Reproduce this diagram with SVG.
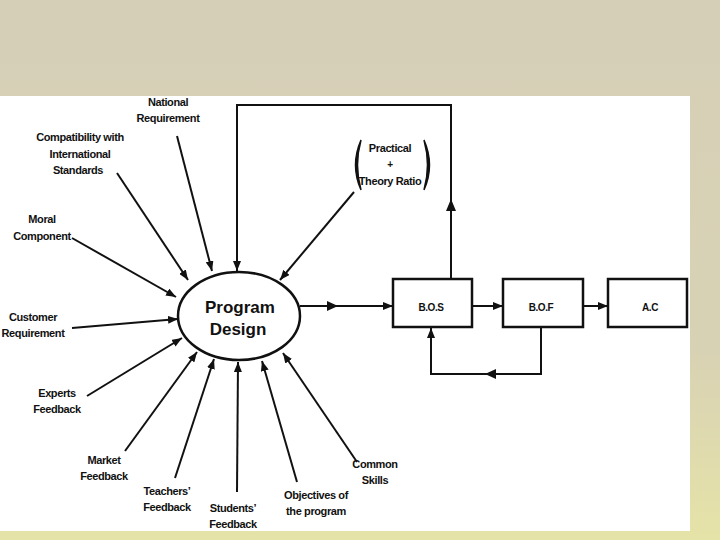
<svg xmlns="http://www.w3.org/2000/svg" width="720" height="540" viewBox="0 0 720 540">
<defs>
<linearGradient id="bg" x1="0" y1="0" x2="0" y2="1">
<stop offset="0" stop-color="#d6cfb8"/>
<stop offset="0.65" stop-color="#d8d2b4"/>
<stop offset="1" stop-color="#e6e3a8"/>
</linearGradient>
<marker id="ah" viewBox="0 0 10 8" refX="10" refY="4" markerWidth="10" markerHeight="8" markerUnits="userSpaceOnUse" orient="auto">
<path d="M0,0 L10,4 L0,8 Z" fill="#111"/>
</marker>
</defs>
<style>
.t{font-family:"Liberation Sans",Arial,sans-serif;font-weight:bold;font-size:11px;letter-spacing:-0.4px;fill:#111;text-anchor:middle}
.c{stroke:#111;stroke-width:2;fill:none}
.b{stroke:#111;stroke-width:2.5;fill:#fff}
.h{fill:#111}
</style>
<rect x="0" y="0" width="720" height="540" fill="url(#bg)"/>
<rect x="0" y="96" width="690" height="435" fill="#fff"/>

<g id="connectors">
<path class="c" d="M177,136 L212,271" marker-end="url(#ah)"/>
<path class="c" d="M117,173 L188,280" marker-end="url(#ah)"/>
<path class="c" d="M72,238 L176,297" marker-end="url(#ah)"/>
<path class="c" d="M72,328 L178,319" marker-end="url(#ah)"/>
<path class="c" d="M87,396 L182,338" marker-end="url(#ah)"/>
<path class="c" d="M125,451 L197,352" marker-end="url(#ah)"/>
<path class="c" d="M175,478 L214,359" marker-end="url(#ah)"/>
<path class="c" d="M237,492 L238,362" marker-end="url(#ah)"/>
<path class="c" d="M297,482 L262,361" marker-end="url(#ah)"/>
<path class="c" d="M357,462 L283,353" marker-end="url(#ah)"/>
<path class="c" d="M354,192 L280,280" marker-end="url(#ah)" stroke-width="1.5"/>
<path class="c" d="M300,306 L393,306" marker-end="url(#ah)" stroke-width="1.5"/>
<polygon class="h" points="327,301 338,306 327,311"/>
<path class="c" d="M472,306 L503,306" marker-end="url(#ah)" stroke-width="1.5"/>
<path class="c" d="M583,306 L608,306" marker-end="url(#ah)" stroke-width="1.5"/>
<path class="c" d="M541,327 L541,374 L431,374 L431,328" stroke-width="2.5" marker-end="url(#ah)"/>
<polygon class="h" points="485,374 496,369 496,379"/>
<path class="c" d="M451,279 L451,105 L237,105 L237,271" stroke-width="2.5" marker-end="url(#ah)"/>
<polygon class="h" points="446,211 451,199 456,211"/>
</g>

<g id="program-design">
<ellipse cx="239" cy="316" rx="61" ry="44" fill="#fff" stroke="#111" stroke-width="2.5"/>
<text class="t" x="240" y="313" style="font-size:17px;letter-spacing:0">Program</text>
<text class="t" x="238" y="335" style="font-size:17px;letter-spacing:0">Design</text>
</g>

<g id="bos"><rect class="b" x="393" y="279" width="79" height="48"/><text class="t" x="431" y="311" style="font-size:10px">B.O.S</text></g>
<g id="bof"><rect class="b" x="503" y="279" width="80" height="48"/><text class="t" x="541" y="311" style="font-size:10px">B.O.F</text></g>
<g id="ac"><rect class="b" x="608" y="279" width="79" height="48"/><text class="t" x="650" y="311" style="font-size:10px">A.C</text></g>

<g id="ratio">
<path d="M361,140 Q350,165 361,190 Q354,165 361,140 Z" fill="#111" stroke="#111" stroke-width="1.5"/>
<path d="M424,140 Q435,165 424,190 Q431,165 424,140 Z" fill="#111" stroke="#111" stroke-width="1.5"/>
<text class="t" x="390" y="152">Practical</text>
<text class="t" x="390" y="168" style="font-size:10px">+</text>
<text class="t" x="390" y="185">Theory Ratio</text>
</g>

<g id="national"><text class="t" x="168" y="106">National</text><text class="t" x="168" y="122">Requirement</text></g>
<g id="compat"><text class="t" x="80" y="141">Compatibility with</text><text class="t" x="80" y="158">International</text><text class="t" x="78" y="174">Standards</text></g>
<g id="moral"><text class="t" x="42" y="223">Moral</text><text class="t" x="42" y="240">Component</text></g>
<g id="customer"><text class="t" x="33" y="321">Customer</text><text class="t" x="33" y="337">Requirement</text></g>
<g id="experts"><text class="t" x="57" y="397">Experts</text><text class="t" x="57" y="413">Feedback</text></g>
<g id="market"><text class="t" x="104" y="464">Market</text><text class="t" x="104" y="480">Feedback</text></g>
<g id="teachers"><text class="t" x="167" y="495">Teachers’</text><text class="t" x="167" y="511">Feedback</text></g>
<g id="students"><text class="t" x="233" y="512">Students’</text><text class="t" x="233" y="528">Feedback</text></g>
<g id="objectives"><text class="t" x="316" y="499">Objectives of</text><text class="t" x="316" y="515">the program</text></g>
<g id="skills"><text class="t" x="375" y="468">Common</text><text class="t" x="375" y="484">Skills</text></g>
</svg>
